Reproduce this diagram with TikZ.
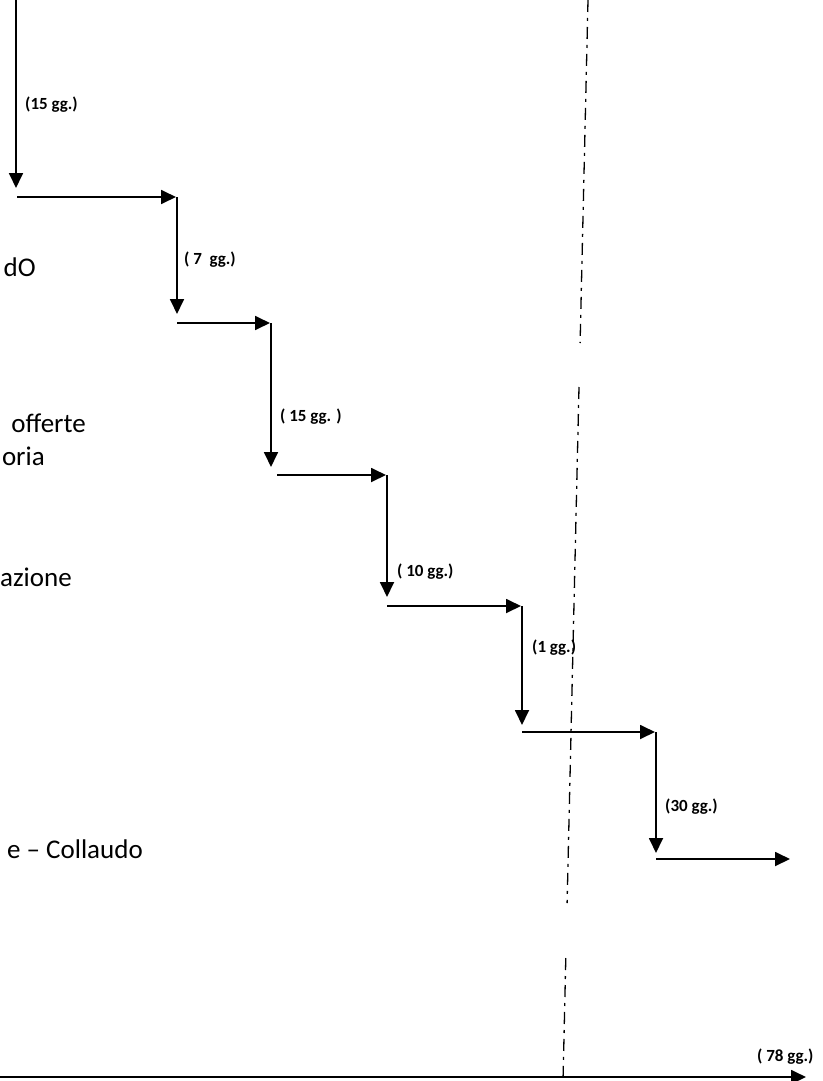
\documentclass[tikz,border=0pt]{standalone}
\usepackage{fontspec}
\setmainfont{Carlito}
\usetikzlibrary{arrows.meta}
\begin{document}
\begin{tikzpicture}[x=1pt,y=-1pt,
  flow/.style={line width=1.8pt,-{Triangle[width=14pt,length=15pt]}},
  dur/.style={anchor=west,inner sep=0pt,font=\fontsize{17}{20}\selectfont\bfseries},
  phase/.style={anchor=base east,inner sep=0pt,font=\fontsize{27}{33}\selectfont},
  cut/.style={line width=1.3pt,dash pattern=on 12pt off 6pt on 3pt off 6pt}]
\useasboundingbox (0,0) rectangle (822,1081);
% coordinates of the steps
\coordinate (s0) at (16,0);
\coordinate (e0) at (16,188);
\coordinate (h1a) at (17,197);   \coordinate (h1b) at (176,197);
\coordinate (v2a) at (177,197);  \coordinate (v2b) at (177,314);
\coordinate (h2a) at (177,323);  \coordinate (h2b) at (270,323);
\coordinate (v3a) at (271,323);  \coordinate (v3b) at (271,467);
\coordinate (h3a) at (277,475);  \coordinate (h3b) at (386,475);
\coordinate (v4a) at (387,475);  \coordinate (v4b) at (387,597);
\coordinate (h4a) at (387,606);  \coordinate (h4b) at (521,606);
\coordinate (v5a) at (522,606);  \coordinate (v5b) at (522,725);
\coordinate (h5a) at (522,732);  \coordinate (h5b) at (655,732);
\coordinate (v6a) at (656,732);  \coordinate (v6b) at (656,853);
\coordinate (h6a) at (656,859);  \coordinate (h6b) at (790,859);
\coordinate (ax0) at (0,1077);   \coordinate (ax1) at (806,1077);
% connectors
\draw[flow] (s0) -- (e0);
\draw[flow] (h1a) -- (h1b);
\draw[flow] (v2a) -- (v2b);
\draw[flow] (h2a) -- (h2b);
\draw[flow] (v3a) -- (v3b);
\draw[flow] (h3a) -- (h3b);
\draw[flow] (v4a) -- (v4b);
\draw[flow] (h4a) -- (h4b);
\draw[flow] (v5a) -- (v5b);
\draw[flow] (h5a) -- (h5b);
\draw[flow] (v6a) -- (v6b);
\draw[flow] (h6a) -- (h6b);
\draw[flow] (ax0) -- (ax1);
% durations
\node[dur] (d1) at (25,105) {(15 gg.)};
\node[dur] (d2) at (184,260) {( 7~ gg.)};
\node[dur] (d3) at (280,417) {( 15 gg. )};
\node[dur] (d4) at (397,572) {( 10 gg.)};
\node[dur] (d5) at (532,648) {(1 gg.)};
\node[dur] (d6) at (665,807) {(30 gg.)};
\node[dur] (d7) at (757,1057) {( 78 gg.)};
% phase texts (cut at the left edge)
\node[phase] (t1) at (36,276) {dO};
\node[phase] (t2) at (86,432) {offerte};
\node[phase] (t3) at (45,465) {oria};
\node[phase] (t4) at (72,586) {azione};
\node[phase] (t5) at (143,858) {e -- Collaudo};
% dash-dot cut line
\coordinate (c0) at (588,0);
\coordinate (c1) at (580.1,343);
\coordinate (c2) at (579,387);
\coordinate (c3) at (567.1,903);
\coordinate (c4) at (565.8,958);
\coordinate (c5) at (563,1081);
\draw[cut] (c0) -- (c1);
\draw[cut] (c2) -- (c3);
\draw[cut] (c4) -- (c5);
\end{tikzpicture}
\end{document}
